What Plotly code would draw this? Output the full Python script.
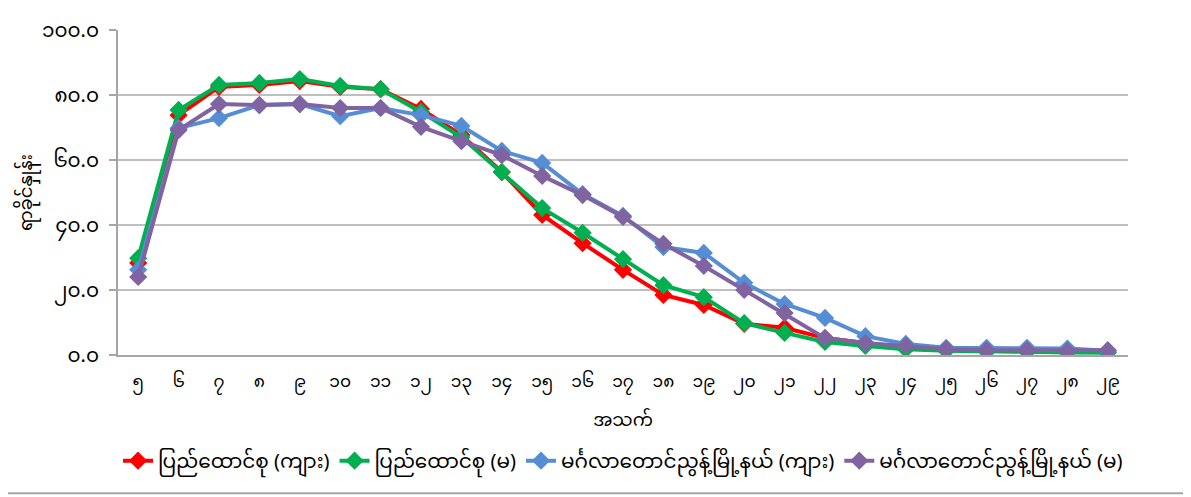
import plotly.graph_objects as go

ages = ["၅", "၆", "၇", "၈", "၉", "၁၀", "၁၁", "၁၂", "၁၃", "၁၄", "၁၅", "၁၆", "၁၇",
        "၁၈", "၁၉", "၂၀", "၂၁", "၂၂", "၂၃", "၂၄", "၂၅", "၂၆", "၂၇", "၂၈", "၂၉"]

union_male = [28.3, 73.8, 82.5, 83.1, 84.3, 82.5, 81.8, 75.7, 67.7, 56.3, 43.1, 34.4, 26.2,
              18.5, 15.4, 9.6, 8.4, 5.2, 3.7, 2.2, 1.5, 1.2, 1.1, 1.0, 0.9]
union_female = [29.8, 75.4, 83.1, 83.7, 84.9, 82.8, 81.8, 74.8, 67.0, 56.3, 45.2, 37.6, 29.5,
                21.5, 17.8, 9.8, 6.8, 4.0, 2.8, 1.8, 1.3, 1.0, 1.0, 0.8, 0.7]
mandalay_male = [26.2, 69.8, 72.9, 76.9, 77.2, 73.5, 76.0, 73.8, 70.5, 62.8, 59.1, 49.5, 42.8,
                 33.2, 31.4, 22.2, 15.7, 11.4, 5.8, 3.4, 2.2, 2.2, 2.2, 2.0, 1.3]
mandalay_female = [24.0, 69.2, 77.2, 76.9, 77.2, 76.0, 76.0, 70.2, 65.8, 61.5, 55.1, 49.2, 42.5,
                   34.2, 27.4, 20.0, 12.9, 5.2, 3.7, 2.8, 1.8, 1.5, 1.5, 1.2, 1.5]

series_names = ["ပြည်ထောင်စု (ကျား)", "ပြည်ထောင်စု (မ)",
                "မင်္ဂလာတောင်ညွန့်မြို့နယ် (ကျား)", "မင်္ဂလာတောင်ညွန့်မြို့နယ် (မ)"]
series_values = [union_male, union_female, mandalay_male, mandalay_female]
series_colors = ["#FF0000", "#00B050", "#558ED5", "#8064A2"]

y_tickvals = [0, 20, 40, 60, 80, 100]
y_ticktext = ["၀.၀", "၂၀.၀", "၄၀.၀", "၆၀.၀", "၈၀.၀", "၁၀၀.၀"]

fig = go.Figure()
for name, vals, col in zip(series_names, series_values, series_colors):
    fig.add_trace(go.Scatter(
        x=ages, y=vals, name=name, mode="lines+markers",
        line=dict(color=col, width=4),
        marker=dict(symbol="diamond", size=14, color=col),
    ))

font_family = "Noto Sans Myanmar, Myanmar Text, Padauk, DejaVu Sans, sans-serif"

fig.update_layout(
    width=1183, height=489,
    margin=dict(l=110, r=63, t=22, b=142),
    plot_bgcolor="white", paper_bgcolor="white",
    font=dict(family=font_family, size=17, color="#000000"),
    showlegend=True,
    legend=dict(orientation="h", x=0.5, xanchor="center", y=-0.325, yanchor="middle",
                font=dict(size=20), bgcolor="rgba(0,0,0,0)", traceorder="normal"),
    xaxis=dict(
        type="category", range=[-0.5, len(ages) - 0.5], automargin=False,
        showgrid=False, showline=True, linecolor="#A6A6A6", linewidth=2,
        ticks="", tickfont=dict(size=17), ticklabelstandoff=10,
        title=dict(text="အသက်", font=dict(size=18), standoff=0),
    ),
    yaxis=dict(
        range=[0, 100], tickvals=y_tickvals, ticktext=y_ticktext, automargin=False,
        showgrid=True, gridcolor="#BFBFBF", gridwidth=2,
        showline=True, linecolor="#A6A6A6", linewidth=2,
        ticks="outside", ticklen=7, tickcolor="#A6A6A6", tickwidth=2,
        tickfont=dict(size=20), zeroline=False, ticklabelstandoff=6,
        title=dict(text="ရာခိုင်နှုန်း", font=dict(size=18), standoff=18),
    ),
)

fig.add_shape(type="line", xref="paper", yref="paper", x0=-0.109, x1=1.062, y0=-0.425, y1=-0.425,
              line=dict(color="#A6A6A6", width=2))

fig.write_html("out.html")
